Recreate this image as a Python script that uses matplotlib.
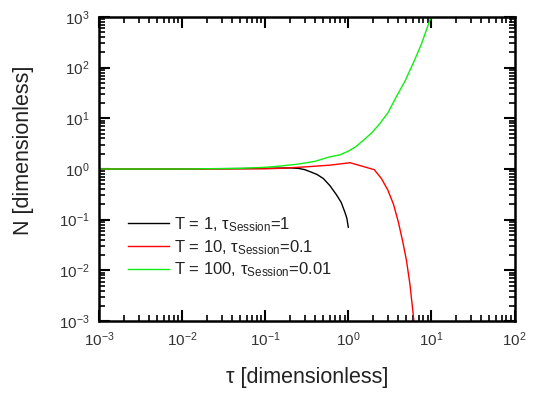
import math
import matplotlib
matplotlib.use("Agg")
import matplotlib.pyplot as plt
from matplotlib.ticker import LogLocator, FuncFormatter, NullFormatter

plt.rcParams['font.family'] = ['Liberation Sans', 'DejaVu Sans']
plt.rcParams['mathtext.fontset'] = 'custom'
plt.rcParams['mathtext.rm'] = 'Liberation Sans'
plt.rcParams['mathtext.it'] = 'Liberation Sans'
plt.rcParams['mathtext.default'] = 'regular'

# Data
tau_black = [0.001, 0.01, 0.1, 0.2, 0.25, 0.3, 0.35, 0.42, 0.5, 0.6, 0.72, 0.82, 0.91, 0.96, 1.0]
N_black = [1.0, 1.0, 1.03, 1.05, 1.03, 0.97, 0.88, 0.78, 0.65, 0.47, 0.31, 0.22, 0.14, 0.107, 0.071]

tau_red = [0.001, 0.01, 0.1, 0.15, 0.3, 0.6, 1.05, 2.05, 2.5, 3.0, 3.5, 4.0, 4.5, 5.0, 5.5, 6.0, 6.5]
N_red = [1.0, 1.0, 1.01, 1.03, 1.1, 1.19, 1.33, 0.97, 0.65, 0.38, 0.2, 0.09, 0.038, 0.016, 0.0055, 0.0015, 0.0004]

tau_green = [0.001, 0.01, 0.05, 0.1, 0.15, 0.25, 0.4, 0.6, 0.79, 1.0, 1.23, 1.52, 1.9, 2.4, 3.0,
             3.8, 4.8, 6.05, 7.6, 9.6, 10.1]
N_green = [1.0, 1.0, 1.03, 1.08, 1.14, 1.25, 1.42, 1.74, 1.9, 2.25, 2.75, 3.7, 5.1, 7.9, 12.9,
           27, 54, 123, 295, 870, 1050]

labels = [r"T = 1, $\tau_{Session}$=1",
          r"T = 10, $\tau_{Session}$=0.1",
          r"T = 100, $\tau_{Session}$=0.01"]

fig = plt.figure(figsize=(5.47, 3.95), dpi=100)
ax = fig.add_axes([0.181, 0.1873, 0.7596, 0.7697])

ax.plot(tau_black, N_black, color='black', lw=1.0, label=labels[0])
ax.plot(tau_red, N_red, color='#ff0000', lw=1.0, label=labels[1])
ax.plot(tau_green, N_green, color='#11ee11', lw=1.0, label=labels[2])

ax.set_xscale('log')
ax.set_yscale('log')
ax.set_xlim(1e-3, 1e2)
ax.set_ylim(1e-3, 1e3)

def fmt(v, pos):
    e = int(round(math.log10(v)))
    return r"$10^{%d}$" % e

for axis in (ax.xaxis, ax.yaxis):
    axis.set_major_locator(LogLocator(base=10, numticks=20))
    axis.set_minor_locator(LogLocator(base=10, subs=range(2, 10), numticks=20))
    axis.set_major_formatter(FuncFormatter(fmt))
    axis.set_minor_formatter(NullFormatter())

ax.tick_params(which='both', direction='in', top=True, right=True, labelsize=11, colors='black')
ax.tick_params(which='major', length=8, width=1.5, pad=7)
ax.tick_params(which='minor', length=4, width=1.2)
for s in ax.spines.values():
    s.set_linewidth(1.8)

ax.tick_params(axis='x', labelcolor='#333333')
ax.tick_params(axis='y', labelcolor='#333333')

ax.set_xlabel(r"τ [dimensionless]", fontsize=15.5, color='#222222', labelpad=13)
ax.set_ylabel("N [dimensionless]", fontsize=15.5, color='#222222')
ax.yaxis.set_label_coords(-0.157, 0.5625)

leg = ax.legend(loc='lower left', bbox_to_anchor=(0.053, 0.115), frameon=False,
                fontsize=12, handlelength=2.45, handletextpad=0.3, labelspacing=0.25,
                borderaxespad=0)
for t in leg.get_texts():
    t.set_color('#222222')

fig.savefig("out.png", dpi=100)
